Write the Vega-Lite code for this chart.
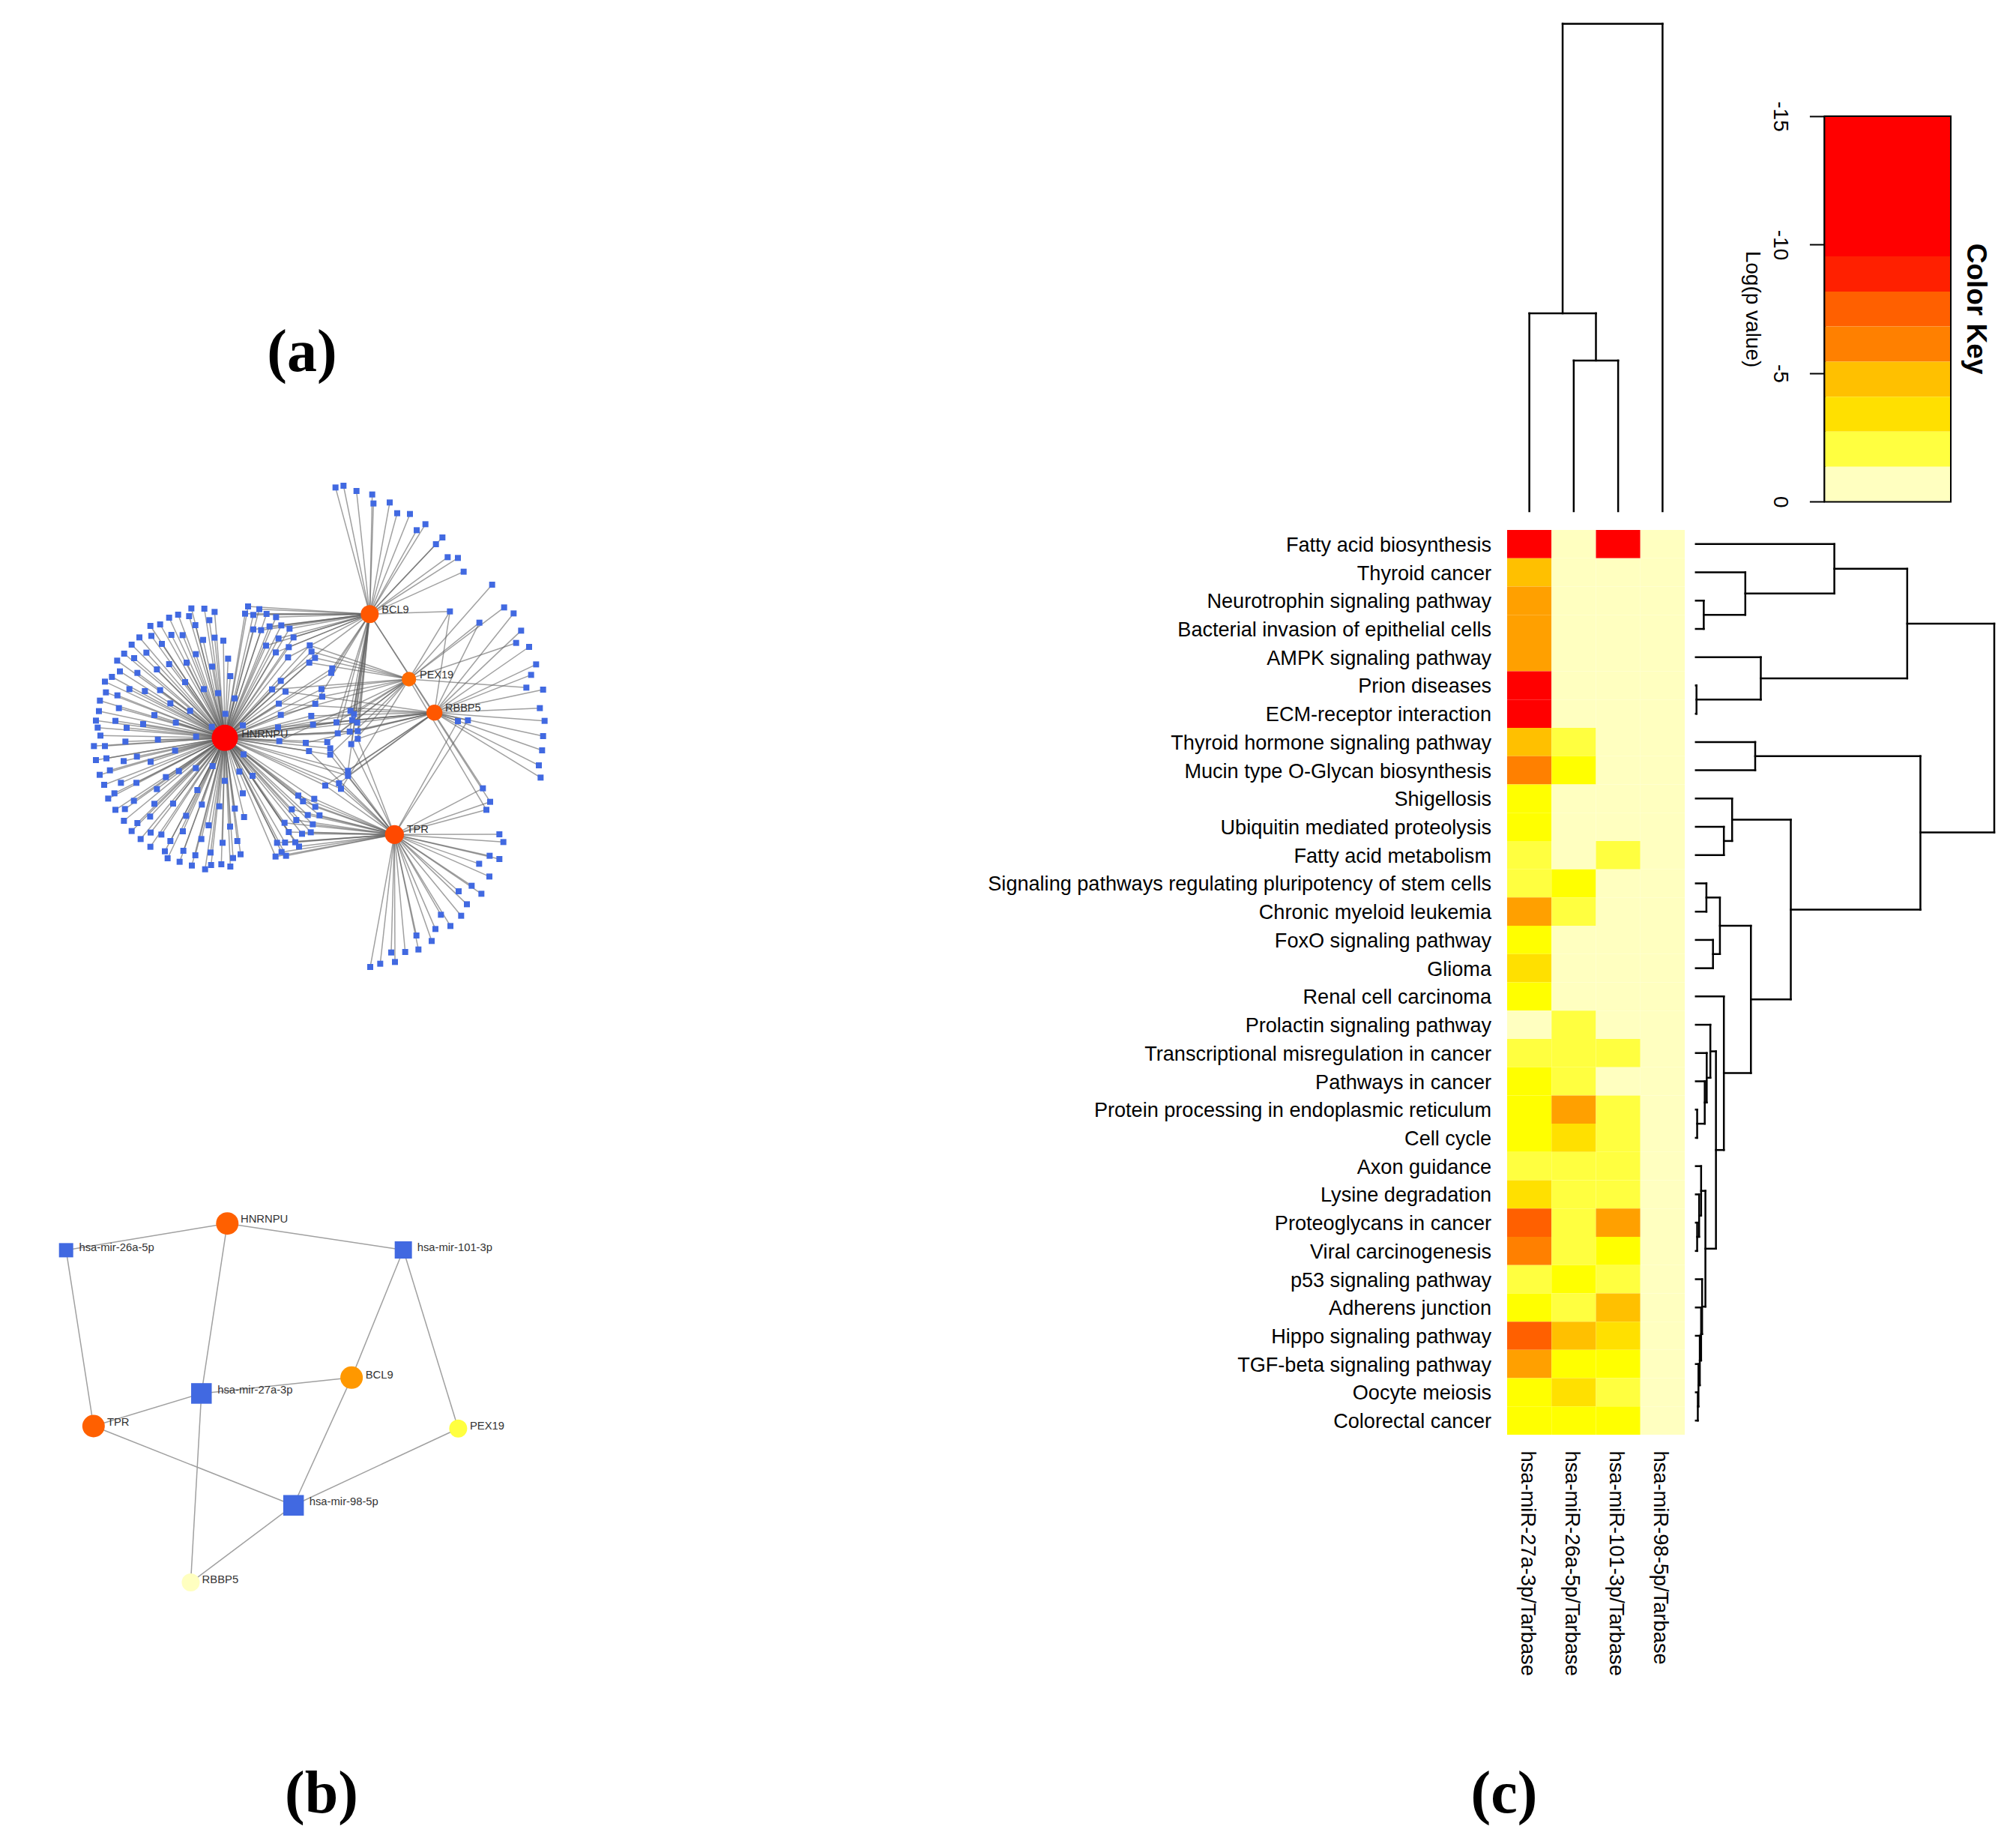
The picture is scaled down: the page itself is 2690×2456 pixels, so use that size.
{"$schema":"https://vega.github.io/schema/vega-lite/v6.json","width":2690,"height":2456,"padding":0,"autosize":{"type":"none"},"background":"white","config":{"view":{"stroke":null},"font":"Liberation Sans"},
"datasets":{
"hubs":[{"hub":"H","name":"HNRNPU","x":570,"y":1033,"lx":637,"ly":1020,"degree":250,"score":1},{"hub":"B","name":"BCL9","x":1150,"y":538,"lx":1198,"ly":522,"degree":80,"score":0.38},{"hub":"P","name":"PEX19","x":1307,"y":798,"lx":1350,"ly":782,"degree":50,"score":0.09},{"hub":"R","name":"RBBP5","x":1409,"y":932,"lx":1452,"ly":915,"degree":60,"score":0.38},{"hub":"T","name":"TPR","x":1249,"y":1420,"lx":1298,"ly":1402,"degree":90,"score":0.55}],
"targets":[
{"x":436,"y":515,"hubs":["H"]},{"x":488,"y":516,"hubs":["H"]},{"x":529,"y":529,"hubs":["H"]},{"x":383,"y":540,"hubs":["H"]},{"x":427,"y":546,"hubs":["H"]},{"x":347,"y":552,"hubs":["H"]},{"x":508,"y":562,"hubs":["H"]},{"x":452,"y":582,"hubs":["H"]},{"x":272,"y":585,"hubs":["H"]},{"x":311,"y":579,"hubs":["H"]},{"x":228,"y":631,"hubs":["H"]},{"x":276,"y":625,"hubs":["H"]},{"x":356,"y":621,"hubs":["H"]},{"x":401,"y":622,"hubs":["H"]},{"x":483,"y":641,"hubs":["H"]},{"x":529,"y":632,"hubs":["H"]},{"x":564,"y":644,"hubs":["H"]},{"x":197,"y":660,"hubs":["H"]},{"x":318,"y":657,"hubs":["H"]},{"x":167,"y":696,"hubs":["H"]},{"x":256,"y":692,"hubs":["H"]},{"x":454,"y":698,"hubs":["H"]},{"x":207,"y":714,"hubs":["H"]},{"x":139,"y":724,"hubs":["H"]},{"x":583,"y":716,"hubs":["H"]},{"x":347,"y":738,"hubs":["H"]},{"x":417,"y":732,"hubs":["H"]},{"x":519,"y":748,"hubs":["H"]},{"x":150,"y":767,"hubs":["H"]},{"x":298,"y":759,"hubs":["H"]},{"x":220,"y":773,"hubs":["H"]},{"x":118,"y":789,"hubs":["H"]},{"x":90,"y":808,"hubs":["H"]},{"x":592,"y":786,"hubs":["H"]},{"x":411,"y":810,"hubs":["H"]},{"x":188,"y":838,"hubs":["H"]},{"x":250,"y":846,"hubs":["H"]},{"x":311,"y":842,"hubs":["H"]},{"x":486,"y":838,"hubs":["H"]},{"x":543,"y":854,"hubs":["H"]},{"x":94,"y":851,"hubs":["H"]},{"x":140,"y":863,"hubs":["H"]},{"x":70,"y":884,"hubs":["H"]},{"x":609,"y":875,"hubs":["H"]},{"x":352,"y":895,"hubs":["H"]},{"x":146,"y":914,"hubs":["H"]},{"x":66,"y":926,"hubs":["H"]},{"x":431,"y":925,"hubs":["H"]},{"x":288,"y":942,"hubs":["H"]},{"x":572,"y":937,"hubs":["H"]},
{"x":663,"y":507,"hubs":["H","B"]},{"x":708,"y":518,"hubs":["H","B"]},{"x":651,"y":536,"hubs":["H","B"]},{"x":684,"y":541,"hubs":["H","B"]},{"x":737,"y":537,"hubs":["H","B"]},{"x":775,"y":550,"hubs":["H","B"]},{"x":684,"y":599,"hubs":["H","B"]},{"x":715,"y":602,"hubs":["H","B"]},{"x":749,"y":587,"hubs":["H","B"]},{"x":796,"y":583,"hubs":["H","B"]},{"x":829,"y":596,"hubs":["H","B"]},{"x":785,"y":635,"hubs":["H","B"]},{"x":845,"y":631,"hubs":["H","B"]},{"x":735,"y":664,"hubs":["H","B"]},{"x":826,"y":670,"hubs":["H","B"]},{"x":774,"y":691,"hubs":["H","B"]},{"x":823,"y":711,"hubs":["H","B"]},
{"x":910,"y":663,"hubs":["H","P"]},{"x":917,"y":688,"hubs":["H","P"]},{"x":931,"y":713,"hubs":["H","P"]},{"x":908,"y":732,"hubs":["H","P"]},{"x":794,"y":805,"hubs":["H","B"]},{"x":759,"y":839,"hubs":["H","P"]},{"x":813,"y":848,"hubs":["H","R"]},{"x":957,"y":838,"hubs":["H","P"]},{"x":960,"y":868,"hubs":["H","P"]},{"x":786,"y":896,"hubs":["H","R"]},{"x":932,"y":897,"hubs":["H","B"]},{"x":794,"y":941,"hubs":["H","P"]},{"x":916,"y":945,"hubs":["H","R"]},{"x":923,"y":980,"hubs":["H","R"]},
{"x":54,"y":964,"hubs":["H"]},{"x":132,"y":965,"hubs":["H"]},{"x":243,"y":978,"hubs":["H"]},{"x":374,"y":972,"hubs":["H"]},{"x":518,"y":989,"hubs":["H"]},{"x":642,"y":983,"hubs":["H"]},{"x":783,"y":991,"hubs":["H","R"]},{"x":177,"y":993,"hubs":["H"]},{"x":61,"y":992,"hubs":["H"]},{"x":72,"y":1024,"hubs":["H"]},{"x":302,"y":1040,"hubs":["H"]},{"x":455,"y":1028,"hubs":["H"]},{"x":172,"y":1048,"hubs":["H"]},{"x":46,"y":1066,"hubs":["H"]},{"x":90,"y":1066,"hubs":["H"]},{"x":788,"y":1046,"hubs":["H","P"]},{"x":894,"y":1053,"hubs":["H","R"]},{"x":371,"y":1084,"hubs":["H"]},{"x":907,"y":1086,"hubs":["H","T"]},{"x":218,"y":1108,"hubs":["H"]},{"x":96,"y":1115,"hubs":["H"]},{"x":54,"y":1122,"hubs":["H"]},{"x":165,"y":1126,"hubs":["H"]},{"x":273,"y":1129,"hubs":["H"]},{"x":645,"y":1099,"hubs":["H"]},{"x":110,"y":1163,"hubs":["H"]},{"x":69,"y":1181,"hubs":["H"]},{"x":386,"y":1166,"hubs":["H"]},{"x":454,"y":1154,"hubs":["H"]},{"x":521,"y":1146,"hubs":["H"]},{"x":628,"y":1168,"hubs":["H"]},{"x":334,"y":1190,"hubs":["H"]},{"x":681,"y":1185,"hubs":["H"]},{"x":570,"y":1205,"hubs":["H"]},{"x":87,"y":1221,"hubs":["H"]},{"x":154,"y":1213,"hubs":["H"]},{"x":216,"y":1213,"hubs":["H"]},{"x":298,"y":1238,"hubs":["H"]},{"x":460,"y":1242,"hubs":["H"]},{"x":128,"y":1255,"hubs":["H"]},{"x":103,"y":1276,"hubs":["H"]},{"x":642,"y":1255,"hubs":["H"]},{"x":206,"y":1285,"hubs":["H"]},{"x":288,"y":1297,"hubs":["H"]},{"x":363,"y":1296,"hubs":["H"]},{"x":478,"y":1300,"hubs":["H"]},{"x":548,"y":1307,"hubs":["H"]},{"x":610,"y":1316,"hubs":["H"]},{"x":132,"y":1321,"hubs":["H"]},{"x":170,"y":1318,"hubs":["H"]},{"x":271,"y":1348,"hubs":["H"]},{"x":415,"y":1345,"hubs":["H"]},{"x":647,"y":1350,"hubs":["H"]},{"x":166,"y":1365,"hubs":["H"]},{"x":220,"y":1374,"hubs":["H"]},{"x":197,"y":1406,"hubs":["H"]},{"x":273,"y":1412,"hubs":["H"]},{"x":316,"y":1420,"hubs":["H"]},{"x":402,"y":1407,"hubs":["H"]},{"x":505,"y":1383,"hubs":["H"]},{"x":591,"y":1388,"hubs":["H"]},{"x":233,"y":1438,"hubs":["H"]},{"x":352,"y":1446,"hubs":["H"]},{"x":476,"y":1438,"hubs":["H"]},{"x":620,"y":1446,"hubs":["H"]},{"x":561,"y":1453,"hubs":["H"]},{"x":272,"y":1469,"hubs":["H"]},{"x":330,"y":1487,"hubs":["H"]},{"x":404,"y":1485,"hubs":["H"]},{"x":513,"y":1492,"hubs":["H"]},{"x":633,"y":1499,"hubs":["H"]},{"x":452,"y":1503,"hubs":["H"]},{"x":341,"y":1515,"hubs":["H"]},{"x":603,"y":1514,"hubs":["H"]},{"x":389,"y":1529,"hubs":["H"]},{"x":438,"y":1544,"hubs":["H"]},{"x":515,"y":1542,"hubs":["H"]},{"x":556,"y":1539,"hubs":["H"]},{"x":592,"y":1548,"hubs":["H"]},{"x":491,"y":1559,"hubs":["H"]},
{"x":864,"y":1264,"hubs":["H","T"]},{"x":883,"y":1287,"hubs":["H","T"]},{"x":928,"y":1277,"hubs":["H","T"]},{"x":932,"y":1309,"hubs":["H","T"]},{"x":838,"y":1319,"hubs":["H","T"]},{"x":902,"y":1342,"hubs":["H","T"]},{"x":949,"y":1343,"hubs":["H","T"]},{"x":856,"y":1362,"hubs":["H","T"]},{"x":809,"y":1373,"hubs":["H","T"]},{"x":922,"y":1379,"hubs":["H","T"]},{"x":826,"y":1410,"hubs":["H","T"]},{"x":879,"y":1417,"hubs":["H","T"]},{"x":914,"y":1411,"hubs":["H","T"]},{"x":779,"y":1453,"hubs":["H","T"]},{"x":811,"y":1452,"hubs":["H","T"]},{"x":852,"y":1451,"hubs":["H","T"]},{"x":867,"y":1468,"hubs":["H","T"]},{"x":797,"y":1490,"hubs":["H","T"]},{"x":773,"y":1508,"hubs":["H","T"]},{"x":815,"y":1505,"hubs":["H","T"]},
{"x":1000,"y":755,"hubs":["H","B"]},{"x":996,"y":773,"hubs":["H","B"]},{"x":1073,"y":925,"hubs":["H","B","R"]},{"x":1087,"y":938,"hubs":["H","B","P"]},{"x":1080,"y":962,"hubs":["H","B","R"]},{"x":1100,"y":972,"hubs":["H","B","R"]},{"x":1017,"y":971,"hubs":["H","B","P"]},{"x":1070,"y":1008,"hubs":["H","B","R"]},{"x":1102,"y":1006,"hubs":["H","B","R"]},{"x":1022,"y":1015,"hubs":["H","B","P"]},{"x":1102,"y":1037,"hubs":["B","T","R"]},{"x":980,"y":1050,"hubs":["H","P"]},{"x":1076,"y":1058,"hubs":["B","T","P"]},{"x":992,"y":1075,"hubs":["H","T"]},{"x":992,"y":1100,"hubs":["H","T","P"]},{"x":1063,"y":1165,"hubs":["H","R","B"]},{"x":1063,"y":1185,"hubs":["H","R","T"]},{"x":972,"y":1224,"hubs":["H","T","R"]},{"x":1027,"y":1215,"hubs":["H","R","T"]},{"x":1035,"y":1237,"hubs":["H","T","P"]},
{"x":1013,"y":31,"hubs":["B"]},{"x":1045,"y":24,"hubs":["B"]},{"x":1097,"y":45,"hubs":["B"]},{"x":1160,"y":59,"hubs":["B"]},{"x":1165,"y":95,"hubs":["B"]},{"x":1230,"y":91,"hubs":["B"]},{"x":1260,"y":134,"hubs":["B"]},{"x":1311,"y":137,"hubs":["B"]},{"x":1373,"y":178,"hubs":["B"]},{"x":1338,"y":202,"hubs":["B"]},{"x":1441,"y":231,"hubs":["B"]},{"x":1415,"y":258,"hubs":["B"]},{"x":1462,"y":310,"hubs":["B"]},{"x":1503,"y":313,"hubs":["B"]},{"x":1526,"y":368,"hubs":["B"]},
{"x":1471,"y":527,"hubs":["B","P","R"]},{"x":1640,"y":420,"hubs":["P"]},{"x":1688,"y":511,"hubs":["P"]},{"x":1726,"y":535,"hubs":["R"]},{"x":1589,"y":572,"hubs":["P","R"]},{"x":1756,"y":604,"hubs":["R"]},{"x":1736,"y":653,"hubs":["P"]},{"x":1788,"y":669,"hubs":["R"]},{"x":1816,"y":739,"hubs":["R"]},{"x":1796,"y":781,"hubs":["R"]},{"x":1777,"y":832,"hubs":["P"]},{"x":1844,"y":840,"hubs":["R"]},{"x":1831,"y":914,"hubs":["R"]},{"x":1850,"y":965,"hubs":["R"]},{"x":1503,"y":966,"hubs":["R","T"]},{"x":1543,"y":963,"hubs":["R","T"]},{"x":1844,"y":1026,"hubs":["R"]},{"x":1840,"y":1083,"hubs":["R"]},{"x":1827,"y":1143,"hubs":["R"]},{"x":1834,"y":1192,"hubs":["R"]},{"x":1603,"y":1235,"hubs":["B","T"]},{"x":1632,"y":1289,"hubs":["B","T"]},{"x":1617,"y":1321,"hubs":["P","T"]},
{"x":1669,"y":1419,"hubs":["T"]},{"x":1685,"y":1450,"hubs":["T"]},{"x":1630,"y":1505,"hubs":["T"]},{"x":1669,"y":1518,"hubs":["T"]},{"x":1588,"y":1537,"hubs":["T"]},{"x":1629,"y":1588,"hubs":["T"]},{"x":1558,"y":1625,"hubs":["T"]},{"x":1597,"y":1657,"hubs":["T"]},{"x":1506,"y":1647,"hubs":["T"]},{"x":1539,"y":1699,"hubs":["T"]},{"x":1435,"y":1741,"hubs":["T"]},{"x":1516,"y":1745,"hubs":["T"]},{"x":1473,"y":1786,"hubs":["T"]},{"x":1413,"y":1798,"hubs":["T"]},{"x":1337,"y":1824,"hubs":["T"]},{"x":1398,"y":1846,"hubs":["T"]},{"x":1345,"y":1880,"hubs":["T"]},{"x":1292,"y":1890,"hubs":["T"]},{"x":1236,"y":1892,"hubs":["T"]},{"x":1251,"y":1930,"hubs":["T"]},{"x":1192,"y":1937,"hubs":["T"]},{"x":1152,"y":1950,"hubs":["T"]}
],
"bnodes":[{"name":"HNRNPU","kind":"gene","x":578,"y":90,"lx":620,"ly":76,"degree":3,"logp":-7.5},{"name":"TPR","kind":"gene","x":154,"y":847,"lx":197,"ly":834,"degree":3,"logp":-7.5},{"name":"BCL9","kind":"gene","x":972,"y":666,"lx":1016,"ly":659,"degree":3,"logp":-5.3},{"name":"PEX19","kind":"gene","x":1310,"y":856,"lx":1347,"ly":847,"degree":2,"logp":-2},{"name":"RBBP5","kind":"gene","x":462,"y":1431,"lx":498,"ly":1423,"degree":2,"logp":-0.5},{"name":"hsa-mir-26a-5p","kind":"mirna","x":67,"y":190,"lx":108,"ly":181,"degree":2},{"name":"hsa-mir-101-3p","kind":"mirna","x":1136,"y":189,"lx":1180,"ly":181,"degree":3},{"name":"hsa-mir-27a-3p","kind":"mirna","x":496,"y":725,"lx":547,"ly":714,"degree":4},{"name":"hsa-mir-98-5p","kind":"mirna","x":788,"y":1143,"lx":838,"ly":1132,"degree":4}],
"bedges":[{"gene":"HNRNPU","mirna":"hsa-mir-26a-5p"},{"gene":"HNRNPU","mirna":"hsa-mir-101-3p"},{"gene":"TPR","mirna":"hsa-mir-26a-5p"},{"gene":"HNRNPU","mirna":"hsa-mir-27a-3p"},{"gene":"TPR","mirna":"hsa-mir-27a-3p"},{"gene":"BCL9","mirna":"hsa-mir-27a-3p"},{"gene":"RBBP5","mirna":"hsa-mir-27a-3p"},{"gene":"BCL9","mirna":"hsa-mir-101-3p"},{"gene":"PEX19","mirna":"hsa-mir-101-3p"},{"gene":"BCL9","mirna":"hsa-mir-98-5p"},{"gene":"TPR","mirna":"hsa-mir-98-5p"},{"gene":"PEX19","mirna":"hsa-mir-98-5p"},{"gene":"RBBP5","mirna":"hsa-mir-98-5p"}],
"rowtree":[{"r1":3,"h1":0,"r2":4,"h2":0,"h":24},{"r1":2,"h1":0,"r2":3.5,"h2":24,"h":150},{"r1":1,"h1":0,"r2":2.75,"h2":150,"h":420},{"r1":6,"h1":0,"r2":7,"h2":0,"h":2},{"r1":5,"h1":0,"r2":6.5,"h2":2,"h":197},{"r1":1.875,"h1":420,"r2":5.75,"h2":197,"h":641},{"r1":8,"h1":0,"r2":9,"h2":0,"h":180},{"r1":11,"h1":0,"r2":12,"h2":0,"h":85},{"r1":10,"h1":0,"r2":11.5,"h2":85,"h":110},{"r1":13,"h1":0,"r2":14,"h2":0,"h":32},{"r1":15,"h1":0,"r2":16,"h2":0,"h":52},{"r1":13.5,"h1":32,"r2":15.5,"h2":52,"h":73},{"r1":21,"h1":0,"r2":22,"h2":0,"h":4},{"r1":20,"h1":0,"r2":21.5,"h2":4,"h":27},{"r1":19,"h1":0,"r2":20.75,"h2":27,"h":33},{"r1":18,"h1":0,"r2":19.875,"h2":33,"h":44},{"r1":25,"h1":0,"r2":26,"h2":0,"h":4},{"r1":24,"h1":0,"r2":25.5,"h2":4,"h":10},{"r1":23,"h1":0,"r2":24.75,"h2":10,"h":16},{"r1":31,"h1":0,"r2":32,"h2":0,"h":6},{"r1":30,"h1":0,"r2":31.5,"h2":6,"h":8},{"r1":29,"h1":0,"r2":30.75,"h2":8,"h":12},{"r1":28,"h1":0,"r2":29.875,"h2":12,"h":16},{"r1":27,"h1":0,"r2":28.94,"h2":16,"h":19},{"r1":23.875,"h1":16,"r2":27.97,"h2":19,"h":29},{"r1":18.94,"h1":44,"r2":25.92,"h2":29,"h":61},{"r1":17,"h1":0,"r2":22.43,"h2":61,"h":85},{"r1":14.5,"h1":73,"r2":19.71,"h2":85,"h":167},{"r1":10.75,"h1":110,"r2":17.1,"h2":167,"h":288},{"r1":8.5,"h1":180,"r2":13.93,"h2":288,"h":681},{"r1":3.8125,"h1":641,"r2":11.2,"h2":681,"h":905}],
"coltree":[{"c1":2,"h1":0,"c2":3,"h2":0,"h":201},{"c1":1,"h1":0,"c2":2.5,"h2":201,"h":264},{"c1":1.75,"h1":264,"c2":4,"h2":0,"h":650}],
"key":[{"from":-15,"to":-9.55,"logp":-12,"a":0,"b":1},{"from":-9.55,"to":-8.18,"logp":-9,"a":0,"b":1},{"from":-8.18,"to":-6.82,"logp":-7.5,"a":0,"b":1},{"from":-6.82,"to":-5.45,"logp":-6,"a":0,"b":1},{"from":-5.45,"to":-4.09,"logp":-4.5,"a":0,"b":1},{"from":-4.09,"to":-2.73,"logp":-3.5,"a":0,"b":1},{"from":-2.73,"to":-1.36,"logp":-2,"a":0,"b":1},{"from":-1.36,"to":0,"logp":-0.5,"a":0,"b":1}],
"heat":[
{"pathway":"Fatty acid biosynthesis","mirna":"hsa-miR-27a-3p/Tarbase","logp":-12},{"pathway":"Fatty acid biosynthesis","mirna":"hsa-miR-26a-5p/Tarbase","logp":-0.5},{"pathway":"Fatty acid biosynthesis","mirna":"hsa-miR-101-3p/Tarbase","logp":-12},{"pathway":"Fatty acid biosynthesis","mirna":"hsa-miR-98-5p/Tarbase","logp":-0.5},
{"pathway":"Thyroid cancer","mirna":"hsa-miR-27a-3p/Tarbase","logp":-4.5},{"pathway":"Thyroid cancer","mirna":"hsa-miR-26a-5p/Tarbase","logp":-0.5},{"pathway":"Thyroid cancer","mirna":"hsa-miR-101-3p/Tarbase","logp":-0.5},{"pathway":"Thyroid cancer","mirna":"hsa-miR-98-5p/Tarbase","logp":-0.5},
{"pathway":"Neurotrophin signaling pathway","mirna":"hsa-miR-27a-3p/Tarbase","logp":-5.3},{"pathway":"Neurotrophin signaling pathway","mirna":"hsa-miR-26a-5p/Tarbase","logp":-0.5},{"pathway":"Neurotrophin signaling pathway","mirna":"hsa-miR-101-3p/Tarbase","logp":-0.5},{"pathway":"Neurotrophin signaling pathway","mirna":"hsa-miR-98-5p/Tarbase","logp":-0.5},
{"pathway":"Bacterial invasion of epithelial cells","mirna":"hsa-miR-27a-3p/Tarbase","logp":-5.3},{"pathway":"Bacterial invasion of epithelial cells","mirna":"hsa-miR-26a-5p/Tarbase","logp":-0.5},{"pathway":"Bacterial invasion of epithelial cells","mirna":"hsa-miR-101-3p/Tarbase","logp":-0.5},{"pathway":"Bacterial invasion of epithelial cells","mirna":"hsa-miR-98-5p/Tarbase","logp":-0.5},
{"pathway":"AMPK signaling pathway","mirna":"hsa-miR-27a-3p/Tarbase","logp":-5.3},{"pathway":"AMPK signaling pathway","mirna":"hsa-miR-26a-5p/Tarbase","logp":-0.5},{"pathway":"AMPK signaling pathway","mirna":"hsa-miR-101-3p/Tarbase","logp":-0.5},{"pathway":"AMPK signaling pathway","mirna":"hsa-miR-98-5p/Tarbase","logp":-0.5},
{"pathway":"Prion diseases","mirna":"hsa-miR-27a-3p/Tarbase","logp":-12},{"pathway":"Prion diseases","mirna":"hsa-miR-26a-5p/Tarbase","logp":-0.5},{"pathway":"Prion diseases","mirna":"hsa-miR-101-3p/Tarbase","logp":-0.5},{"pathway":"Prion diseases","mirna":"hsa-miR-98-5p/Tarbase","logp":-0.5},
{"pathway":"ECM-receptor interaction","mirna":"hsa-miR-27a-3p/Tarbase","logp":-12},{"pathway":"ECM-receptor interaction","mirna":"hsa-miR-26a-5p/Tarbase","logp":-0.5},{"pathway":"ECM-receptor interaction","mirna":"hsa-miR-101-3p/Tarbase","logp":-0.5},{"pathway":"ECM-receptor interaction","mirna":"hsa-miR-98-5p/Tarbase","logp":-0.5},
{"pathway":"Thyroid hormone signaling pathway","mirna":"hsa-miR-27a-3p/Tarbase","logp":-4.5},{"pathway":"Thyroid hormone signaling pathway","mirna":"hsa-miR-26a-5p/Tarbase","logp":-2},{"pathway":"Thyroid hormone signaling pathway","mirna":"hsa-miR-101-3p/Tarbase","logp":-0.5},{"pathway":"Thyroid hormone signaling pathway","mirna":"hsa-miR-98-5p/Tarbase","logp":-0.5},
{"pathway":"Mucin type O-Glycan biosynthesis","mirna":"hsa-miR-27a-3p/Tarbase","logp":-6},{"pathway":"Mucin type O-Glycan biosynthesis","mirna":"hsa-miR-26a-5p/Tarbase","logp":-2.5},{"pathway":"Mucin type O-Glycan biosynthesis","mirna":"hsa-miR-101-3p/Tarbase","logp":-0.5},{"pathway":"Mucin type O-Glycan biosynthesis","mirna":"hsa-miR-98-5p/Tarbase","logp":-0.5},
{"pathway":"Shigellosis","mirna":"hsa-miR-27a-3p/Tarbase","logp":-2.5},{"pathway":"Shigellosis","mirna":"hsa-miR-26a-5p/Tarbase","logp":-0.5},{"pathway":"Shigellosis","mirna":"hsa-miR-101-3p/Tarbase","logp":-0.5},{"pathway":"Shigellosis","mirna":"hsa-miR-98-5p/Tarbase","logp":-0.5},
{"pathway":"Ubiquitin mediated proteolysis","mirna":"hsa-miR-27a-3p/Tarbase","logp":-2.5},{"pathway":"Ubiquitin mediated proteolysis","mirna":"hsa-miR-26a-5p/Tarbase","logp":-0.5},{"pathway":"Ubiquitin mediated proteolysis","mirna":"hsa-miR-101-3p/Tarbase","logp":-0.5},{"pathway":"Ubiquitin mediated proteolysis","mirna":"hsa-miR-98-5p/Tarbase","logp":-0.5},
{"pathway":"Fatty acid metabolism","mirna":"hsa-miR-27a-3p/Tarbase","logp":-2},{"pathway":"Fatty acid metabolism","mirna":"hsa-miR-26a-5p/Tarbase","logp":-0.5},{"pathway":"Fatty acid metabolism","mirna":"hsa-miR-101-3p/Tarbase","logp":-2},{"pathway":"Fatty acid metabolism","mirna":"hsa-miR-98-5p/Tarbase","logp":-0.5},
{"pathway":"Signaling pathways regulating pluripotency of stem cells","mirna":"hsa-miR-27a-3p/Tarbase","logp":-2},{"pathway":"Signaling pathways regulating pluripotency of stem cells","mirna":"hsa-miR-26a-5p/Tarbase","logp":-2.5},{"pathway":"Signaling pathways regulating pluripotency of stem cells","mirna":"hsa-miR-101-3p/Tarbase","logp":-0.5},{"pathway":"Signaling pathways regulating pluripotency of stem cells","mirna":"hsa-miR-98-5p/Tarbase","logp":-0.5},
{"pathway":"Chronic myeloid leukemia","mirna":"hsa-miR-27a-3p/Tarbase","logp":-5.3},{"pathway":"Chronic myeloid leukemia","mirna":"hsa-miR-26a-5p/Tarbase","logp":-2},{"pathway":"Chronic myeloid leukemia","mirna":"hsa-miR-101-3p/Tarbase","logp":-0.5},{"pathway":"Chronic myeloid leukemia","mirna":"hsa-miR-98-5p/Tarbase","logp":-0.5},
{"pathway":"FoxO signaling pathway","mirna":"hsa-miR-27a-3p/Tarbase","logp":-2.5},{"pathway":"FoxO signaling pathway","mirna":"hsa-miR-26a-5p/Tarbase","logp":-0.5},{"pathway":"FoxO signaling pathway","mirna":"hsa-miR-101-3p/Tarbase","logp":-0.5},{"pathway":"FoxO signaling pathway","mirna":"hsa-miR-98-5p/Tarbase","logp":-0.5},
{"pathway":"Glioma","mirna":"hsa-miR-27a-3p/Tarbase","logp":-3.5},{"pathway":"Glioma","mirna":"hsa-miR-26a-5p/Tarbase","logp":-0.5},{"pathway":"Glioma","mirna":"hsa-miR-101-3p/Tarbase","logp":-0.5},{"pathway":"Glioma","mirna":"hsa-miR-98-5p/Tarbase","logp":-0.5},
{"pathway":"Renal cell carcinoma","mirna":"hsa-miR-27a-3p/Tarbase","logp":-2.5},{"pathway":"Renal cell carcinoma","mirna":"hsa-miR-26a-5p/Tarbase","logp":-0.5},{"pathway":"Renal cell carcinoma","mirna":"hsa-miR-101-3p/Tarbase","logp":-0.5},{"pathway":"Renal cell carcinoma","mirna":"hsa-miR-98-5p/Tarbase","logp":-0.5},
{"pathway":"Prolactin signaling pathway","mirna":"hsa-miR-27a-3p/Tarbase","logp":-0.5},{"pathway":"Prolactin signaling pathway","mirna":"hsa-miR-26a-5p/Tarbase","logp":-2},{"pathway":"Prolactin signaling pathway","mirna":"hsa-miR-101-3p/Tarbase","logp":-0.5},{"pathway":"Prolactin signaling pathway","mirna":"hsa-miR-98-5p/Tarbase","logp":-0.5},
{"pathway":"Transcriptional misregulation in cancer","mirna":"hsa-miR-27a-3p/Tarbase","logp":-2},{"pathway":"Transcriptional misregulation in cancer","mirna":"hsa-miR-26a-5p/Tarbase","logp":-2},{"pathway":"Transcriptional misregulation in cancer","mirna":"hsa-miR-101-3p/Tarbase","logp":-2},{"pathway":"Transcriptional misregulation in cancer","mirna":"hsa-miR-98-5p/Tarbase","logp":-0.5},
{"pathway":"Pathways in cancer","mirna":"hsa-miR-27a-3p/Tarbase","logp":-2.5},{"pathway":"Pathways in cancer","mirna":"hsa-miR-26a-5p/Tarbase","logp":-2},{"pathway":"Pathways in cancer","mirna":"hsa-miR-101-3p/Tarbase","logp":-0.5},{"pathway":"Pathways in cancer","mirna":"hsa-miR-98-5p/Tarbase","logp":-0.5},
{"pathway":"Protein processing in endoplasmic reticulum","mirna":"hsa-miR-27a-3p/Tarbase","logp":-2.5},{"pathway":"Protein processing in endoplasmic reticulum","mirna":"hsa-miR-26a-5p/Tarbase","logp":-5.3},{"pathway":"Protein processing in endoplasmic reticulum","mirna":"hsa-miR-101-3p/Tarbase","logp":-2},{"pathway":"Protein processing in endoplasmic reticulum","mirna":"hsa-miR-98-5p/Tarbase","logp":-0.5},
{"pathway":"Cell cycle","mirna":"hsa-miR-27a-3p/Tarbase","logp":-2.5},{"pathway":"Cell cycle","mirna":"hsa-miR-26a-5p/Tarbase","logp":-3.5},{"pathway":"Cell cycle","mirna":"hsa-miR-101-3p/Tarbase","logp":-2},{"pathway":"Cell cycle","mirna":"hsa-miR-98-5p/Tarbase","logp":-0.5},
{"pathway":"Axon guidance","mirna":"hsa-miR-27a-3p/Tarbase","logp":-2},{"pathway":"Axon guidance","mirna":"hsa-miR-26a-5p/Tarbase","logp":-2},{"pathway":"Axon guidance","mirna":"hsa-miR-101-3p/Tarbase","logp":-2},{"pathway":"Axon guidance","mirna":"hsa-miR-98-5p/Tarbase","logp":-0.5},
{"pathway":"Lysine degradation","mirna":"hsa-miR-27a-3p/Tarbase","logp":-3.5},{"pathway":"Lysine degradation","mirna":"hsa-miR-26a-5p/Tarbase","logp":-2},{"pathway":"Lysine degradation","mirna":"hsa-miR-101-3p/Tarbase","logp":-2},{"pathway":"Lysine degradation","mirna":"hsa-miR-98-5p/Tarbase","logp":-0.5},
{"pathway":"Proteoglycans in cancer","mirna":"hsa-miR-27a-3p/Tarbase","logp":-7.5},{"pathway":"Proteoglycans in cancer","mirna":"hsa-miR-26a-5p/Tarbase","logp":-2},{"pathway":"Proteoglycans in cancer","mirna":"hsa-miR-101-3p/Tarbase","logp":-5.3},{"pathway":"Proteoglycans in cancer","mirna":"hsa-miR-98-5p/Tarbase","logp":-0.5},
{"pathway":"Viral carcinogenesis","mirna":"hsa-miR-27a-3p/Tarbase","logp":-6},{"pathway":"Viral carcinogenesis","mirna":"hsa-miR-26a-5p/Tarbase","logp":-2},{"pathway":"Viral carcinogenesis","mirna":"hsa-miR-101-3p/Tarbase","logp":-2.5},{"pathway":"Viral carcinogenesis","mirna":"hsa-miR-98-5p/Tarbase","logp":-0.5},
{"pathway":"p53 signaling pathway","mirna":"hsa-miR-27a-3p/Tarbase","logp":-2},{"pathway":"p53 signaling pathway","mirna":"hsa-miR-26a-5p/Tarbase","logp":-2.5},{"pathway":"p53 signaling pathway","mirna":"hsa-miR-101-3p/Tarbase","logp":-2},{"pathway":"p53 signaling pathway","mirna":"hsa-miR-98-5p/Tarbase","logp":-0.5},
{"pathway":"Adherens junction","mirna":"hsa-miR-27a-3p/Tarbase","logp":-2.5},{"pathway":"Adherens junction","mirna":"hsa-miR-26a-5p/Tarbase","logp":-2},{"pathway":"Adherens junction","mirna":"hsa-miR-101-3p/Tarbase","logp":-4.5},{"pathway":"Adherens junction","mirna":"hsa-miR-98-5p/Tarbase","logp":-0.5},
{"pathway":"Hippo signaling pathway","mirna":"hsa-miR-27a-3p/Tarbase","logp":-7.5},{"pathway":"Hippo signaling pathway","mirna":"hsa-miR-26a-5p/Tarbase","logp":-4.5},{"pathway":"Hippo signaling pathway","mirna":"hsa-miR-101-3p/Tarbase","logp":-3.5},{"pathway":"Hippo signaling pathway","mirna":"hsa-miR-98-5p/Tarbase","logp":-0.5},
{"pathway":"TGF-beta signaling pathway","mirna":"hsa-miR-27a-3p/Tarbase","logp":-5.3},{"pathway":"TGF-beta signaling pathway","mirna":"hsa-miR-26a-5p/Tarbase","logp":-2.5},{"pathway":"TGF-beta signaling pathway","mirna":"hsa-miR-101-3p/Tarbase","logp":-2.5},{"pathway":"TGF-beta signaling pathway","mirna":"hsa-miR-98-5p/Tarbase","logp":-0.5},
{"pathway":"Oocyte meiosis","mirna":"hsa-miR-27a-3p/Tarbase","logp":-2.5},{"pathway":"Oocyte meiosis","mirna":"hsa-miR-26a-5p/Tarbase","logp":-3.5},{"pathway":"Oocyte meiosis","mirna":"hsa-miR-101-3p/Tarbase","logp":-2},{"pathway":"Oocyte meiosis","mirna":"hsa-miR-98-5p/Tarbase","logp":-0.5},
{"pathway":"Colorectal cancer","mirna":"hsa-miR-27a-3p/Tarbase","logp":-2.5},{"pathway":"Colorectal cancer","mirna":"hsa-miR-26a-5p/Tarbase","logp":-2.5},{"pathway":"Colorectal cancer","mirna":"hsa-miR-101-3p/Tarbase","logp":-2.5},{"pathway":"Colorectal cancer","mirna":"hsa-miR-98-5p/Tarbase","logp":-0.5}
]},
"data":{"values":[{"label":"(a)","x":403,"y":471},{"label":"(b)","x":429,"y":2394},{"label":"(c)","x":2007,"y":2394}]},
"resolve":{"scale":{"x":"independent","y":"independent","color":"independent","size":"independent"}},
"layer":[
{"mark":{"type":"text","font":"Liberation Serif","fontWeight":"bold","fontSize":80,"baseline":"middle","align":"center"},"encoding":{"x":{"field":"x","type":"quantitative","scale":{"domain":[0,2690],"range":[0,2690]},"axis":null},"y":{"field":"y","type":"quantitative","scale":{"domain":[0,2456],"range":[0,2456]},"axis":null},"text":{"field":"label"}}},
{"layer":[
{"data":{"name":"targets"},"transform":[{"flatten":["hubs"],"as":["hub"]},{"lookup":"hub","from":{"data":{"name":"hubs"},"key":"hub","fields":["x","y"]},"as":["hx","hy"]}],"mark":{"type":"rule","color":"#606060","strokeWidth":1.5,"opacity":0.6},"encoding":{"x":{"field":"x","type":"quantitative","scale":{"domain":[0,2000],"range":[110,776.67],"nice":false,"zero":false},"axis":null},"y":{"field":"y","type":"quantitative","scale":{"domain":[0,2000],"range":[640,1306.67],"nice":false,"zero":false},"axis":null},"x2":{"field":"hx"},"y2":{"field":"hy"}}},
{"data":{"name":"targets"},"mark":{"type":"square","color":"#4169E1","size":64,"opacity":1},"encoding":{"x":{"field":"x","type":"quantitative"},"y":{"field":"y","type":"quantitative"}}},
{"data":{"name":"hubs"},"mark":{"type":"circle","opacity":1},"encoding":{"x":{"field":"x","type":"quantitative"},"y":{"field":"y","type":"quantitative"},"size":{"field":"degree","type":"quantitative","legend":null,"scale":{"domain":[50,60,80,90,250],"range":[372,454,576,640,1225]}},"color":{"field":"score","type":"quantitative","legend":null,"scale":{"domain":[0,1],"range":["#FF7000","#FF0000"]}}}},
{"data":{"name":"hubs"},"mark":{"type":"text","fontSize":14.5,"align":"left","baseline":"middle","color":"#333333"},"encoding":{"x":{"field":"lx","type":"quantitative"},"y":{"field":"ly","type":"quantitative"},"text":{"field":"name"}}}
]},
{"resolve":{"scale":{"size":"independent"}},"layer":[
{"data":{"name":"bedges"},"transform":[{"lookup":"gene","from":{"data":{"name":"bnodes"},"key":"name","fields":["x","y"]},"as":["gx","gy"]},{"lookup":"mirna","from":{"data":{"name":"bnodes"},"key":"name","fields":["x","y"]},"as":["mx","my"]}],"mark":{"type":"rule","color":"#a0a0a0","strokeWidth":1.5},"encoding":{"x":{"field":"gx","type":"quantitative","scale":{"domain":[0,1568],"range":[60,720],"nice":false,"zero":false},"axis":null},"y":{"field":"gy","type":"quantitative","scale":{"domain":[0,1568],"range":[1600,2160],"nice":false,"zero":false},"axis":null},"x2":{"field":"mx"},"y2":{"field":"my"}}},
{"data":{"name":"bnodes"},"transform":[{"filter":"datum.kind==='mirna'"}],"mark":{"type":"square","color":"#4169E1","opacity":1},"encoding":{"x":{"field":"x","type":"quantitative"},"y":{"field":"y","type":"quantitative"},"size":{"field":"degree","type":"quantitative","legend":null,"scale":{"domain":[2,3,4],"range":[361,529,756]}}}},
{"data":{"name":"bnodes"},"transform":[{"filter":"datum.kind==='gene'"}],"mark":{"type":"circle","opacity":1},"encoding":{"x":{"field":"x","type":"quantitative"},"y":{"field":"y","type":"quantitative"},"size":{"field":"degree","type":"quantitative","legend":null,"scale":{"domain":[2,3],"range":[576,900]}},"color":{"field":"logp","type":"quantitative","legend":null,"scale":{"type":"threshold","domain":[-9.55,-8.18,-6.82,-5.6,-5,-4.09,-2.73,-2.2,-1.36],"range":["#FF0000","#FF2000","#FF6000","#FF8000","#FF9800","#FFC000","#FFE000","#FFFF00","#FFFF40","#FFFFC0"]}}}},
{"data":{"name":"bnodes"},"mark":{"type":"text","fontSize":14.8,"align":"left","baseline":"middle","color":"#333333"},"encoding":{"x":{"field":"lx","type":"quantitative"},"y":{"field":"ly","type":"quantitative"},"text":{"field":"name"}}}
]},
{"data":{"name":"heat"},"mark":{"type":"rect"},"encoding":{
"x":{"field":"mirna","type":"nominal","sort":null,"scale":{"type":"band","domain":["hsa-miR-27a-3p/Tarbase","hsa-miR-26a-5p/Tarbase","hsa-miR-101-3p/Tarbase","hsa-miR-98-5p/Tarbase"],"range":[2011,2248],"paddingInner":0,"paddingOuter":0},"axis":{"orient":"bottom","offset":-521,"title":null,"domain":false,"ticks":false,"grid":false,"labelAngle":90,"labelAlign":"left","labelBaseline":"middle","labelPadding":0,"labelOffset":-3,"labelFontSize":27.3,"labelFont":"Liberation Sans","labelColor":"black","labelLimit":1000,"labelOverlap":false}},
"y":{"field":"pathway","type":"nominal","sort":null,"scale":{"type":"band","domain":["Fatty acid biosynthesis","Thyroid cancer","Neurotrophin signaling pathway","Bacterial invasion of epithelial cells","AMPK signaling pathway","Prion diseases","ECM-receptor interaction","Thyroid hormone signaling pathway","Mucin type O-Glycan biosynthesis","Shigellosis","Ubiquitin mediated proteolysis","Fatty acid metabolism","Signaling pathways regulating pluripotency of stem cells","Chronic myeloid leukemia","FoxO signaling pathway","Glioma","Renal cell carcinoma","Prolactin signaling pathway","Transcriptional misregulation in cancer","Pathways in cancer","Protein processing in endoplasmic reticulum","Cell cycle","Axon guidance","Lysine degradation","Proteoglycans in cancer","Viral carcinogenesis","p53 signaling pathway","Adherens junction","Hippo signaling pathway","TGF-beta signaling pathway","Oocyte meiosis","Colorectal cancer"],"range":[707,1914],"paddingInner":0,"paddingOuter":0},"axis":{"orient":"left","offset":-2011,"title":null,"domain":false,"ticks":false,"grid":false,"labelPadding":21.5,"labelOffset":2,"labelFontSize":27.1,"labelFont":"Liberation Sans","labelColor":"black","labelLimit":1200,"labelOverlap":false}},
"color":{"field":"logp","type":"quantitative","legend":null,"scale":{"type":"threshold","domain":[-9.55,-8.18,-6.82,-5.6,-5,-4.09,-2.73,-2.2,-1.36],"range":["#FF0000","#FF2000","#FF6000","#FF8000","#FFA000","#FFC000","#FFE000","#FFFF00","#FFFF40","#FFFFC0"]}}}},
{"data":{"name":"rowtree"},"layer":[
{"mark":{"type":"rule","color":"black","strokeWidth":2.5,"strokeCap":"square"},"encoding":{"x":{"field":"h1","type":"quantitative","scale":{"domain":[0,905],"range":[2262.8,2661],"nice":false,"zero":false},"axis":null},"x2":{"field":"h"},"y":{"field":"r1","type":"quantitative","scale":{"domain":[0.5,32.5],"range":[707,1914],"nice":false,"zero":false},"axis":null}}},
{"mark":{"type":"rule","color":"black","strokeWidth":2.5,"strokeCap":"square"},"encoding":{"x":{"field":"h2","type":"quantitative"},"x2":{"field":"h"},"y":{"field":"r2","type":"quantitative"}}},
{"mark":{"type":"rule","color":"black","strokeWidth":2.5,"strokeCap":"square"},"encoding":{"x":{"field":"h","type":"quantitative"},"y":{"field":"r1","type":"quantitative"},"y2":{"field":"r2"}}}
]},
{"data":{"name":"coltree"},"layer":[
{"mark":{"type":"rule","color":"black","strokeWidth":2.5,"strokeCap":"square"},"encoding":{"y":{"field":"h1","type":"quantitative","scale":{"domain":[0,650],"range":[682,31.7],"nice":false,"zero":false},"axis":null},"y2":{"field":"h"},"x":{"field":"c1","type":"quantitative","scale":{"domain":[0.5,4.5],"range":[2011,2248],"nice":false,"zero":false},"axis":null}}},
{"mark":{"type":"rule","color":"black","strokeWidth":2.5,"strokeCap":"square"},"encoding":{"y":{"field":"h2","type":"quantitative"},"y2":{"field":"h"},"x":{"field":"c2","type":"quantitative"}}},
{"mark":{"type":"rule","color":"black","strokeWidth":2.5,"strokeCap":"square"},"encoding":{"y":{"field":"h","type":"quantitative"},"x":{"field":"c1","type":"quantitative"},"x2":{"field":"c2"}}}
]},
{"data":{"name":"key"},"layer":[
{"mark":{"type":"rect"},"encoding":{"x":{"field":"a","type":"quantitative","scale":{"domain":[0,1],"range":[2434.4,2603],"nice":false,"zero":false},"axis":null},"x2":{"field":"b"},
"y":{"field":"from","type":"quantitative","scale":{"domain":[-15,0],"range":[155,669.4],"nice":false,"zero":false},"axis":{"orient":"left","offset":-2434.4,"values":[-15,-10,-5,0],"labelExpr":"''+datum.value","grid":false,"tickSize":20,"tickWidth":2,"tickColor":"black","domainColor":"black","domainWidth":3,"labelAngle":90,"labelAlign":"center","labelBaseline":"top","labelPadding":26,"labelFontSize":28,"labelFont":"Liberation Sans","labelColor":"black","labelOverlap":false,"labelFlush":false,"title":"Log(p value)","titleFont":"Liberation Sans","titleFontSize":28,"titleFontWeight":"normal","titleColor":"black","titleAngle":90,"titleAlign":"center","titleBaseline":"middle","titleX":-97,"titleY":412}},
"y2":{"field":"to"},
"color":{"field":"logp","type":"quantitative","legend":null,"scale":{"type":"threshold","domain":[-9.55,-8.18,-6.82,-5.6,-5,-4.09,-2.73,-2.2,-1.36],"range":["#FF0000","#FF2000","#FF6000","#FF8000","#FFA000","#FFC000","#FFE000","#FFFF00","#FFFF40","#FFFFC0"]}}}},
{"transform":[{"aggregate":[{"op":"min","field":"from","as":"lo"},{"op":"max","field":"to","as":"hi"},{"op":"min","field":"a","as":"l"},{"op":"max","field":"b","as":"r"}]}],"mark":{"type":"rect","fill":null,"stroke":"black","strokeWidth":2},"encoding":{"x":{"field":"l","type":"quantitative"},"x2":{"field":"r"},"y":{"field":"lo","type":"quantitative"},"y2":{"field":"hi"}}}
]},
{"data":{"values":[{"label":"Color Key","x":2636,"y":412}]},"mark":{"type":"text","font":"Liberation Sans","fontWeight":"bold","fontSize":37,"angle":90,"align":"center","baseline":"middle"},"encoding":{"x":{"field":"x","type":"quantitative","scale":{"domain":[0,2690],"range":[0,2690]},"axis":null},"y":{"field":"y","type":"quantitative","scale":{"domain":[0,2456],"range":[0,2456]},"axis":null},"text":{"field":"label"}}}
]}
